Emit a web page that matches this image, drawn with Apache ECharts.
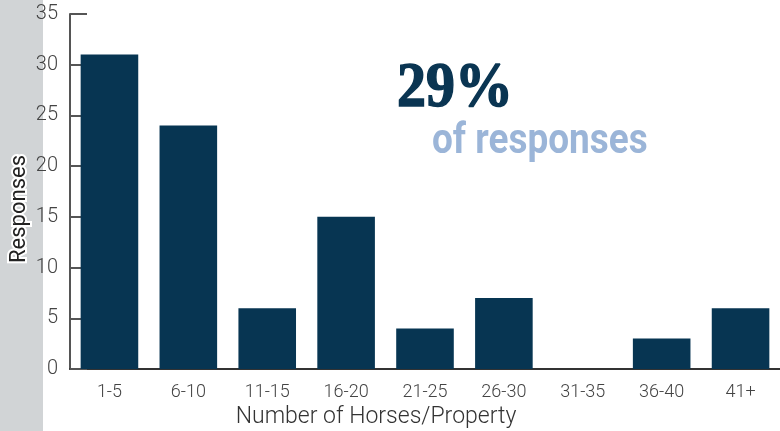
<!DOCTYPE html>
<html><head><meta charset="utf-8">
<script src="https://cdn.jsdelivr.net/npm/echarts@6/dist/echarts.min.js"></script>
<style>html,body{margin:0;padding:0;background:#fff}#c{width:780px;height:431px}</style>
</head><body><div id="c"></div>
<script>
const categories = ['1-5','6-10','11-15','16-20','21-25','26-30','31-35','36-40','41+'];
const responses = [31, 24, 6, 15, 4, 7, 0, 3, 6];
const yTicks = { min: 0, max: 35, interval: 5 };
const bigStat = '29%';
const bigStatSub = 'of responses';
const xTitle = 'Number of Horses/Property';
const yTitle = 'Responses';

const chart = echarts.init(document.getElementById('c'), null, {renderer: 'canvas'});
const sans = 'Roboto, sans-serif';
chart.setOption({
  animation: false,
  backgroundColor: '#fff',
  grid: { left: 70, right: 0, top: 14, bottom: 62 },
  graphic: [
    { type: 'rect', z: -10, shape: { x: 0, y: 0, width: 43, height: 431 }, style: { fill: '#d1d4d6' } },
    { type: 'text', z: 10, x: 19, y: 209, rotation: Math.PI / 2, style: {
        text: yTitle, font: '22px ' + sans, fill: '#222', stroke: '#fff', lineWidth: 4,
        align: 'center', verticalAlign: 'middle' } },
    { type: 'text', x: 376, y: 417, style: { text: xTitle, font: '300 23px ' + sans, fill: '#333',
        align: 'center', verticalAlign: 'middle' } },
    { type: 'text', x: 397, y: 90, scaleX: 0.92, style: { text: bigStat, font: 'bold 63px "Liberation Serif", serif', fill: '#0a3552',
        stroke: '#0a3552', lineWidth: 1.5, align: 'left', verticalAlign: 'middle' } },
    { type: 'text', x: 432, y: 142, scaleX: 0.88, style: { text: bigStatSub, font: 'bold 42px ' + sans, fill: '#9bb5d8',
        align: 'left', verticalAlign: 'middle' } }
  ],
  xAxis: {
    type: 'category', data: categories,
    axisLine: { lineStyle: { color: '#333', width: 2 } },
    axisTick: { inside: true, length: 9, alignWithLabel: false, lineStyle: { color: '#333', width: 2 } },
    axisLabel: { color: '#444', fontSize: 18, fontWeight: 300, fontFamily: sans, margin: 14 }
  },
  yAxis: {
    type: 'value', min: yTicks.min, max: yTicks.max, interval: yTicks.interval,
    splitLine: { show: false },
    axisLine: { show: true, lineStyle: { color: '#555', width: 2 } },
    axisTick: { show: true, inside: true, length: 17, lineStyle: { color: '#555', width: 2 } },
    axisLabel: { color: '#444', fontSize: 20, fontWeight: 300, fontFamily: sans, margin: 12 }
  },
  series: [{
    type: 'bar', data: responses, barWidth: '73%',
    itemStyle: { color: '#073552' }
  }]
});
</script></body></html>
